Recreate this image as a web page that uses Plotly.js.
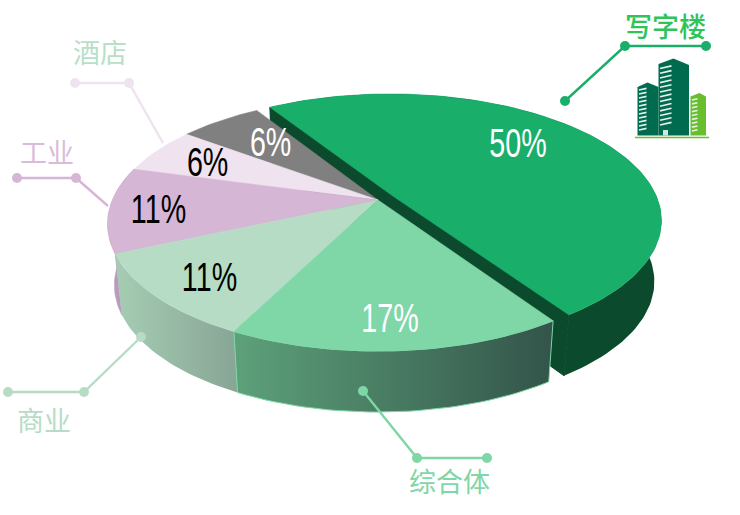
<!DOCTYPE html>
<html><head><meta charset="utf-8">
<script src="https://cdn.plot.ly/plotly-3.0.1.min.js"></script>
<style>html,body{margin:0;padding:0;background:#fff}#c{width:740px;height:515px}</style>
</head><body><div id="c"></div>
<script>
// DATA
const categories = ['写字楼','综合体','商业','工业','酒店','其他'];
const values = [50,17,11,11,6,6];
const topColors = ['#1aae6b','#7fd6a6','#b7dcc6','#d6b6d5','#efe3ef','#808080'];
const labelColors = ['#fff','#fff','#000','#000','#000','#fff'];
const labelCentres = [[518,143],[390,318],[209,277],[158,209],[207,162],[270,142]];

// projection of the disc onto the page
const CX=378, CY=200, A=265.5, B=122.5, K=0.189, DEPTH=61, SHRINK=0.975, EXPLODE=0.065, START=238;
const rad=d=>d*Math.PI/180;
function proj(u,v,low){
  const w=1-K*v; let x=CX+A*u/w, y=CY+B*v/w;
  if(low){x=CX+(x-CX)*SHRINK; y+=DEPTH;}
  return [x,y];
}
const total=values.reduce((a,b)=>a+b,0);
let acc=START;
const slices=values.map(v=>{const s=acc,e=acc+v/total*360;acc=e;return{s,e,m:(s+e)/2};});
function off(i){return i===0?[EXPLODE*Math.cos(rad(slices[0].m)),EXPLODE*Math.sin(rad(slices[0].m))]:[0,0];}
function arc(i,low,s,e){
  const [ou,ov]=off(i),pts=[],n=Math.max(6,Math.ceil((e-s)/1.5));
  for(let k=0;k<=n;k++){const t=rad(s+(e-s)*k/n);pts.push(proj(ou+Math.cos(t),ov+Math.sin(t),low));}
  return pts;
}
function poly(pts,color,extra){
  return Object.assign({type:'scatter',mode:'lines',x:pts.map(p=>p[0]),y:pts.map(p=>p[1]),
    fill:'toself',fillcolor:color,line:{width:0.6,color:color},hoverinfo:'skip',showlegend:false},extra||{});
}
function topFace(i){const [ou,ov]=off(i);return poly([proj(ou,ov)].concat(arc(i,false,slices[i].s,slices[i].e)).concat([proj(ou,ov)]),topColors[i]);}
function side(i,color,extra){const t=arc(i,false,slices[i].s,slices[i].e),b=arc(i,true,slices[i].s,slices[i].e).reverse();
  return poly(t.concat(b).concat([t[0]]),color,extra);}
function grad(c0,c1,edge){return {fillgradient:{type:'horizontal',colorscale:[[0,c0],[1,c1]]},line:{width:edge?1:0,color:edge||c0}};}

const traces=[];
// exploded slice: cut wall, rim and top
{
  const [ou,ov]=off(0),a=rad(slices[0].s),b=rad(slices[0].e);
  const p=[proj(ou+Math.cos(a),ov+Math.sin(a)),proj(ou+Math.cos(b),ov+Math.sin(b)),
           proj(ou+Math.cos(b),ov+Math.sin(b),true),proj(ou+Math.cos(a),ov+Math.sin(a),true)];
  traces.push(poly(p.concat([p[0]]),'#0b4a2c',{line:{width:1,color:'#0b4a2c'}}));
  traces.push(side(0,'#0b4a2c',{line:{width:0,color:'#0b4a2c'}}));
  traces.push(topFace(0));
}
// back slices' rims then front ones
traces.push(side(3,'#b99cbd'));
traces.push(side(2,'#9dc2ac',grad('#a6cdb4','#88a595')));
traces.push(side(1,'#4f8a68',grad('#5da17a','#33544a','#7fd6a6')));
for(const i of [5,4,3,2,1]) traces.push(topFace(i));

// leader lines
const leaders=[
 {c:'#1aae6b',x:[565,625,706],y:[101,46,46],m:[1,1,1]},
 {c:'#efe3ef',x:[75,129,163],y:[83,83,143],m:[1,1,0]},
 {c:'#d6b6d5',x:[17,76,108],y:[178,178,206],m:[1,1,0]},
 {c:'#b7dcc6',x:[8,84,141],y:[392,392,337],m:[1,1,1]},
 {c:'#7fd6a6',x:[363,417,487],y:[391,458,458],m:[1,1,1]}
];
leaders.forEach(l=>traces.push({type:'scatter',mode:'lines+markers',x:l.x,y:l.y,
  line:{color:l.c,width:2.4},marker:{color:l.c,opacity:1,line:{width:0},size:l.m.map(v=>v?10:0)},hoverinfo:'skip',showlegend:false}));

// building icon
const bld=[
 {c:'#006b4f',x:[637.5,647.5,658.5,658.5,637.5,637.5],y:[87,82.5,87,135.5,135.5,87]},
 {c:'#006b4f',x:[658.5,673.5,689,689,658.5,658.5],y:[64,58.5,65,135.5,135.5,64]},
 {c:'#69be2e',x:[690.5,699.5,706,706,690.5,690.5],y:[96.5,93,96.5,135.5,135.5,96.5]}
];
bld.forEach(b=>traces.push({type:'scatter',mode:'lines',x:b.x,y:b.y,fill:'toself',fillcolor:b.c,line:{width:0,color:b.c},hoverinfo:'skip',showlegend:false}));
const shapes=[{type:'line',xref:'x',yref:'y',x0:635,x1:709,y0:137.5,y1:137.5,line:{color:'#69be2e',width:1.5}},
 {type:'rect',xref:'x',yref:'y',x0:663,x1:668,y0:130,y1:135.5,fillcolor:'#cfe8dc',line:{width:0}}];
function stripes(x0,x1,y0,y1,n,rise){for(let k=0;k<n;k++){const y=y0+(y1-y0)*k/(n-1);
  shapes.push({type:'line',xref:'x',yref:'y',x0:x0,x1:x1,y0:y,y1:y-rise,line:{color:'#e6f2ec',width:1.6}});}}
stripes(660,671.5,68.5,125,13,2.6);
stripes(639,646.5,90,130,11,1.6);
stripes(692,697.5,100,131,9,1.2);

// names and percent labels
const cjk='"Noto Sans CJK SC","Noto Sans",sans-serif';
const nameAt=[[665,25,'#2fc45a',true],[449,480,'#7fd6a6'],[44,419,'#b7dcc6'],[47,151,'#d9bcd9'],[100,51,'#b9dfc8']];
const annotations=nameAt.map((p,i)=>({x:p[0],y:p[1],xref:'x',yref:'y',text:categories[i],showarrow:false,
  xanchor:'center',yanchor:'middle',font:{family:cjk,size:27,color:p[2],weight:p[3]?500:400}}));
values.forEach((v,i)=>annotations.push({x:labelCentres[i][0],y:labelCentres[i][1],xref:'x',yref:'y',text:v+'%',showarrow:false,
  xanchor:'center',yanchor:'middle',font:{family:'"Liberation Sans",sans-serif',size:41,color:labelColors[i]}}));

Plotly.newPlot('c',traces,{
  width:740,height:515,margin:{l:0,r:0,t:0,b:0},paper_bgcolor:'#fff',plot_bgcolor:'#fff',showlegend:false,
  xaxis:{range:[0,740],visible:false,fixedrange:true},
  yaxis:{range:[515,0],visible:false,fixedrange:true},
  shapes,annotations
},{displayModeBar:false,staticPlot:true}).then(gd=>{
  // condense the percent labels horizontally (no narrow face is installed)
  gd.querySelectorAll('.annotation text').forEach(t=>{
    if(t.textContent.indexOf('%')<0) return;
    const cx=parseFloat(t.getAttribute('x'))||0;
    t.setAttribute('transform','translate('+cx+',0) scale(0.7,1) translate('+(-cx)+',0)');
  });
});
</script></body></html>
